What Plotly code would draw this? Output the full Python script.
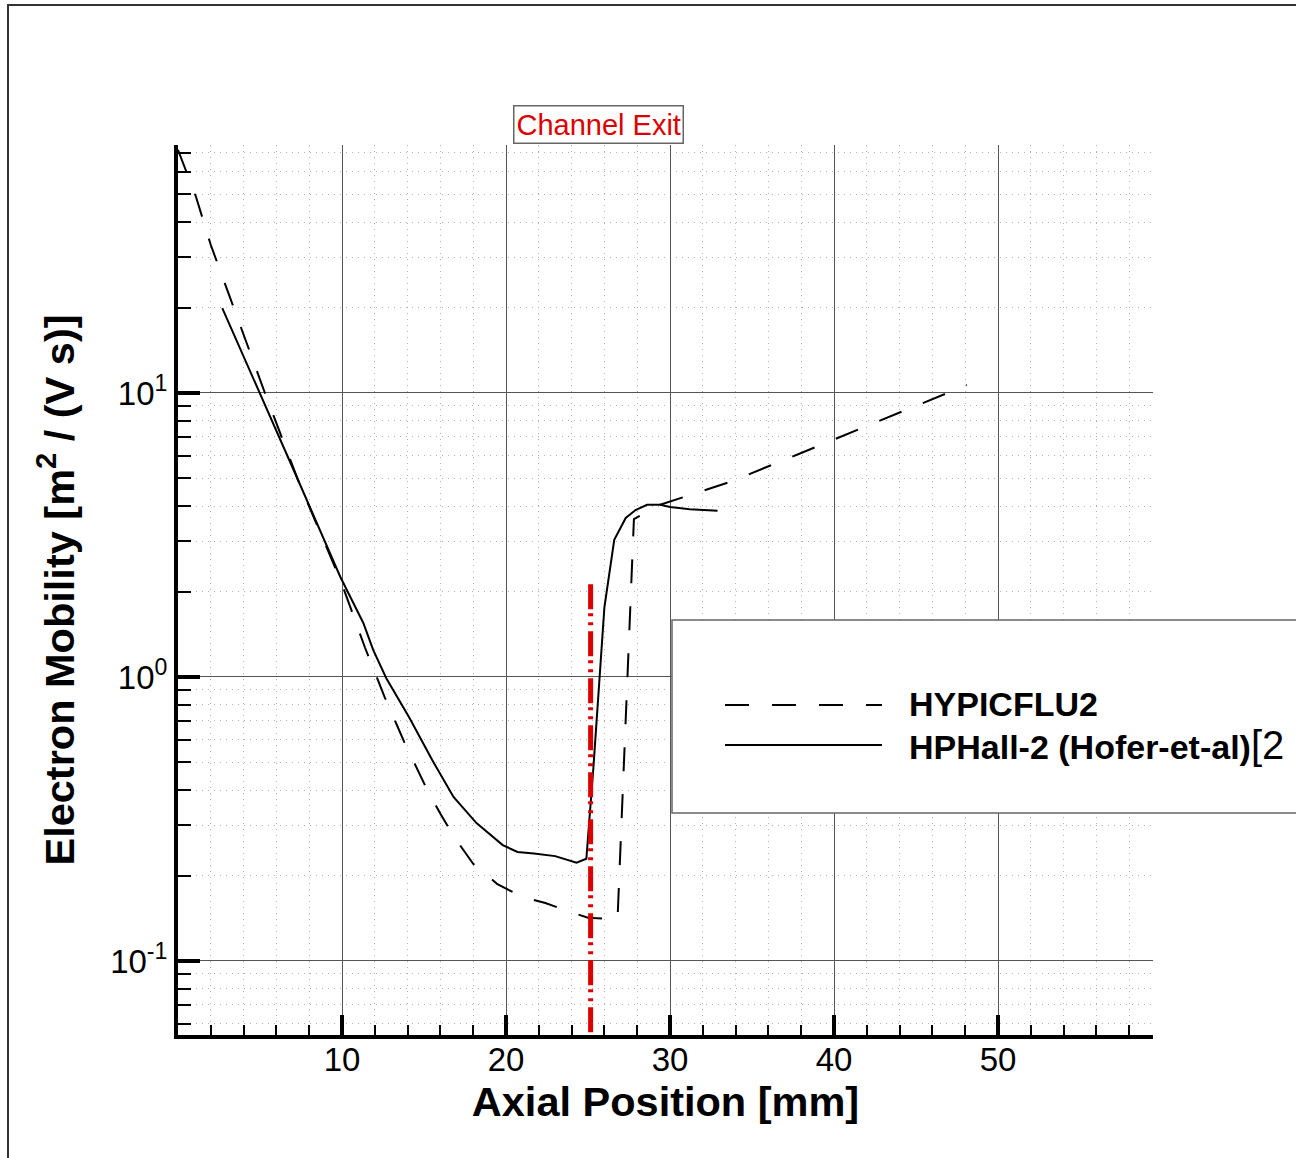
import plotly.graph_objects as go

# ---------------- data ----------------
series_names = ["HYPICFLU2", "HPHall-2 (Hofer-et-al)"]
legend_suffix = "[2"

hyp_x = [0.0, 1.1, 2.0, 3.05, 4.15, 5.3, 7.4, 9.9, 11.4, 12.6, 13.8, 15.2, 16.0, 16.9,
         18.0, 19.45, 21.0, 22.4, 23.9, 25.0, 26.8, 27.8, 29.4, 33.7, 38.0, 43.8, 48.1]
hyp_y = [71.8, 49.0, 33.2, 22.7, 15.4, 10.0, 4.8, 2.2, 1.27, 0.85, 0.59, 0.40, 0.33, 0.27,
         0.22, 0.187, 0.168, 0.16, 0.149, 0.142, 0.140, 3.6, 4.04, 4.87, 6.15, 8.44, 10.67]

hph_x = [2.7, 5.0, 7.4, 9.9, 11.3, 11.9, 12.7, 14.1, 15.5, 16.8, 18.2, 19.8, 20.7, 21.7,
         23.0, 24.3, 24.9, 25.33, 25.7, 26.0, 26.6, 27.3, 27.9, 28.6, 29.4, 30.0, 31.2, 32.9]
hph_y = [19.9, 10.0, 4.82, 2.25, 1.55, 1.245, 0.99, 0.72, 0.51, 0.378, 0.306, 0.256, 0.242, 0.239,
         0.234, 0.222, 0.229, 0.48, 1.0, 1.76, 3.04, 3.63, 3.87, 4.04, 4.04, 3.97, 3.9, 3.85]

exit_x = [25.16, 25.16]
exit_y = [2.12, 0.04]
exit_label = "Channel Exit"

x_tickvals = [10, 20, 30, 40, 50]
y_tickvals = [0.1, 1, 10]
y_ticktext = ["10<sup>-1</sup>", "10<sup>0</sup>", "10<sup>1</sup>"]

x_title = "<b>Axial Position [mm]</b>"
y_title = "<b>Electron Mobility [m<sup>2</sup> / (V s)]</b>"

# ---------------- figure ----------------
FONT = "Liberation Sans, Arial, Helvetica, sans-serif"
W, H = 1296, 1158
L, R, T, B = 178, 143, 145, 123
PW, PH = W - L - R, H - T - B


def px(xp):
    return (xp - L) / PW


def py(yp):
    return (H - B - yp) / PH


fig = go.Figure()

fig.add_trace(go.Scatter(x=hyp_x, y=hyp_y, mode="lines", name=series_names[0],
                         line=dict(color="black", width=2, dash="24px,23px"),
                         showlegend=False))
fig.add_trace(go.Scatter(x=hph_x, y=hph_y, mode="lines", name=series_names[1],
                         line=dict(color="black", width=2),
                         showlegend=False))
fig.add_trace(go.Scatter(x=exit_x, y=exit_y, mode="lines", name=exit_label,
                         line=dict(color="#dd0000", width=5,
                                   dash="25px,4px,3px,6px,3px,6px"),
                         showlegend=False))

grid_minor = dict(showgrid=True, gridcolor="#b0b0b0", gridwidth=1, griddash="1px,5px",
                  ticks="inside", tickcolor="black")

fig.update_xaxes(
    range=[0, PW / 16.4], showline=True, linewidth=4, linecolor="black", mirror=False,
    tickvals=x_tickvals, ticks="inside", ticklen=20, tickwidth=4, tickcolor="black",
    showgrid=True, gridcolor="#555555", gridwidth=1.2, zeroline=False,
    tickfont=dict(family=FONT, size=33, color="black"), ticklabelstandoff=-8,
    minor=dict(dtick=2, tick0=0, ticklen=10, tickwidth=1.5, **grid_minor),
    title=dict(text=x_title, font=dict(family=FONT, size=41.5, color="black"), standoff=0),
)
fig.update_yaxes(
    type="log", range=[-1.2606, 1.8732], showline=True, linewidth=4, linecolor="black",
    mirror=False, tickvals=y_tickvals, ticktext=y_ticktext, ticks="inside", ticklen=22,
    tickwidth=4, tickcolor="black", showgrid=True, gridcolor="#555555", gridwidth=1.2,
    zeroline=False, tickfont=dict(family=FONT, size=33, color="black"),
    minor=dict(dtick="D1", ticklen=13, tickwidth=1.5, **grid_minor),
    title=dict(text=y_title, font=dict(family=FONT, size=41.5, color="black"), standoff=24),
)

shapes = []
# outer frame
shapes.append(dict(type="rect", xref="paper", yref="paper", x0=px(8), x1=px(1400),
                   y0=py(1300), y1=py(5), line=dict(color="#333333", width=2),
                   fillcolor="rgba(0,0,0,0)", layer="above"))
# legend box
shapes.append(dict(type="rect", xref="paper", yref="paper", x0=px(672), x1=px(1400),
                   y0=py(813), y1=py(620), line=dict(color="#666666", width=1.5),
                   fillcolor="white", layer="above"))
shapes.append(dict(type="line", xref="paper", yref="paper", x0=px(725), x1=px(882),
                   y0=py(705), y1=py(705),
                   line=dict(color="black", width=2, dash="24px,23px"), layer="above"))
shapes.append(dict(type="line", xref="paper", yref="paper", x0=px(725), x1=px(882),
                   y0=py(745), y1=py(745), line=dict(color="black", width=2), layer="above"))

annotations = [
    dict(text=exit_label, xref="x", yref="paper", x=25.65, y=py(125), showarrow=False,
         font=dict(family=FONT, size=29, color="#dd0000"), bgcolor="white",
         bordercolor="#666666", borderwidth=1.5, borderpad=2, xanchor="center",
         yanchor="middle"),
    dict(text="<b>" + series_names[0] + "</b>", xref="paper", yref="paper", x=px(907),
         y=py(704), xanchor="left", yanchor="middle", showarrow=False,
         font=dict(family=FONT, size=34, color="black")),
    dict(text="<b>" + series_names[1] + "</b><span style='font-size:40px;font-weight:normal'>"
         + legend_suffix + "</span>",
         xref="paper", yref="paper", x=px(907), y=py(745), xanchor="left",
         yanchor="middle", showarrow=False, align="left",
         font=dict(family=FONT, size=34, color="black")),
]

fig.update_layout(
    width=W, height=H, autosize=False,
    margin=dict(l=L, r=R, t=T, b=B, pad=0),
    paper_bgcolor="white", plot_bgcolor="white",
    shapes=shapes, annotations=annotations,
    font=dict(family=FONT, color="black"),
)

fig.write_html("out.html")
